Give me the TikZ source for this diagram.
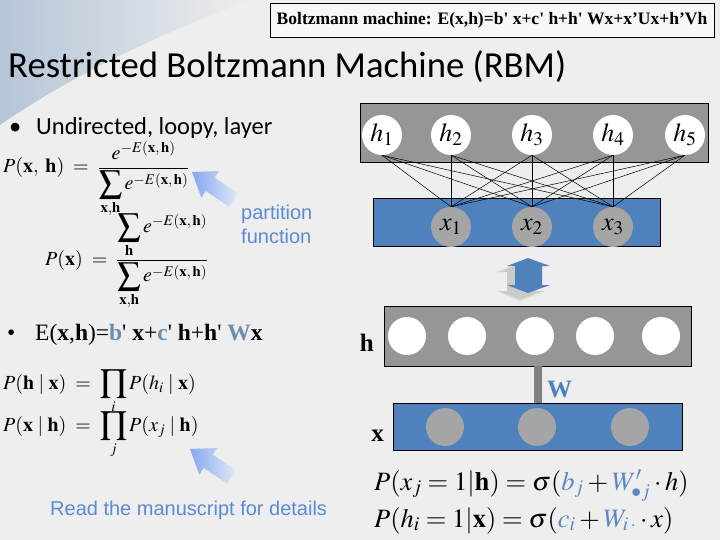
\documentclass[tikz,border=0pt]{standalone}
\usepackage{amsmath}
\usepackage{graphicx}
\usepackage{mathptmx}
\usepackage{fontspec}
\setmainfont{Liberation Serif}
\newfontfamily\calibri{Carlito}
\newfontfamily\arial{Liberation Sans}
\usetikzlibrary{fadings}

\definecolor{slidebg}{HTML}{EEEEEE}
\definecolor{swoosh}{HTML}{9DB5CF}
\definecolor{layergray}{HTML}{969696}
\definecolor{layerblue}{HTML}{4F81BD}
\definecolor{unitgray}{HTML}{A5A5A5}
\definecolor{wiregray}{HTML}{808080}
\definecolor{noteblue}{HTML}{5B8BD6}
\definecolor{paramblue}{HTML}{6C8EAD}
\definecolor{formblue}{HTML}{5C86C4}
\definecolor{tipblue}{HTML}{86A8EE}
\definecolor{tailblue}{HTML}{E0E8F7}

\newcommand{\energy}{e^{-E(\mathbf{x},\,\mathbf{h})}}
\newcommand{\bigsum}{\mathop{\vcenter{\hbox{\scalebox{1.65}{$\textstyle\sum$}}}}\limits}
\newcommand{\bigprod}{\mathop{\vcenter{\hbox{\scalebox{1.65}{$\textstyle\prod$}}}}\limits}

\begin{document}
\begin{tikzpicture}[x=1pt, y=-1pt,
  hunit/.style={circle, fill=white, minimum size=40pt, inner sep=0pt,
        font=\fontsize{26}{26}\selectfont},
  xunit/.style={circle, fill=unitgray, minimum size=40pt, inner sep=0pt,
        font=\fontsize{26}{26}\selectfont},
  layer/.style={draw=black, line width=0.8pt, inner sep=0pt},
  link/.style={line width=0.5pt},
  note/.style={font=\arial\fontsize{20}{24}\selectfont, text=noteblue, inner sep=0pt},
  formula/.style={anchor=base west, inner sep=0pt, font=\fontsize{20}{24}\selectfont}]
  % slide background
  \fill[slidebg] (0,0) rectangle (720,540);
  \useasboundingbox (0,0) rectangle (720,540);
  \fill[swoosh, opacity=0.7, path fading=east] (0,0) -- (250,0)
        .. controls (170,30) and (80,70) .. (0,125) -- cycle;

  % header and title
  \node[draw=black, line width=0.8pt, fill=white!55!slidebg, minimum width=444pt,
        minimum height=34pt, font=\bfseries\fontsize{17.5}{17.5}\selectfont] (bmeq) at (492,20)
        {Boltzmann machine: E(x,h)=b\textquotesingle{} x+c\textquotesingle{} h+h\textquotesingle{} Wx+x’Ux+h’Vh};
  \node[anchor=base west, inner sep=0pt, font=\calibri\fontsize{36.7}{36.7}\selectfont] (title)
        at (8,78) {Restricted Boltzmann Machine (RBM)};

  % left column: bullets and formulas
  \node[anchor=base west, inner sep=0pt, font=\calibri\fontsize{24.5}{24.5}\selectfont] (dot1)
        at (9,135) {\textbullet};
  \node[anchor=base west, inner sep=0pt, font=\calibri\fontsize{24.5}{24.5}\selectfont] (bul1)
        at (36,135) {Undirected, loopy, layer};
  \node[formula] (pjoint) at (3,173)
        {$\displaystyle P(\mathbf{x},\;\mathbf{h})\;=\;\frac{\energy}{\bigsum_{\mathbf{x},\mathbf{h}} \energy}$};
  \node[formula] (pmarg) at (45,265)
        {$\displaystyle P(\mathbf{x})\;=\;\frac{\bigsum_{\mathbf{h}} \energy}{\bigsum_{\mathbf{x},\mathbf{h}} \energy}$};
  \node[note, anchor=north west, align=left] (partfn) at (241,205) {partition\\function};
  \begin{scope}[shift={(192,172)}, rotate=146]
    \shade[left color=tipblue, right color=tailblue] (0,0) -- (-22,16) -- (-22,8) -- (-50,8)
          -- (-50,-8) -- (-22,-8) -- (-22,-16) -- cycle;
  \end{scope}

  \node[anchor=base west, inner sep=0pt, font=\fontsize{23.5}{23.5}\selectfont] (dot2)
        at (7,340) {\textbullet};
  \node[formula, font=\fontsize{23.5}{23.5}\selectfont] (bul2) at (35,340)
        {E(\textbf{x},\textbf{h})=\textcolor{paramblue}{\textbf{b}}\textquotesingle{}
         \textbf{x}+\textcolor{paramblue}{\textbf{c}}\textquotesingle{} \textbf{h}+\textbf{h}\textquotesingle{}
         \textcolor{paramblue}{\textbf{W}}\textbf{x}};
  \node[formula] (phx) at (3,389)
        {$\displaystyle P(\mathbf{h}\mid\mathbf{x})\;=\;\bigprod_i P(h_i\mid\mathbf{x})$};
  \node[formula] (pxh) at (3,431)
        {$\displaystyle P(\mathbf{x}\mid\mathbf{h})\;=\;\bigprod_j P(x_j\mid\mathbf{h})$};
  \begin{scope}[shift={(190,449)}, rotate=146]
    \shade[left color=tipblue, right color=tailblue] (0,0) -- (-22,16) -- (-22,8) -- (-50,8)
          -- (-50,-8) -- (-22,-8) -- (-22,-16) -- cycle;
  \end{scope}
  \node[note, anchor=base west] (readme) at (50,515) {Read the manuscript for details};

  % right column: unit graph
  \node[layer, fill=layergray, minimum width=348pt, minimum height=59pt] (hbox) at (534,132.5) {};
  \node[layer, fill=layerblue, minimum width=287pt, minimum height=48pt] (xbox) at (516.5,222) {};
  \node[hunit] (h1) at (382,135) {$h_1$};
  \node[hunit] (h2) at (451,135) {$h_2$};
  \node[hunit] (h3) at (532,135) {$h_3$};
  \node[hunit] (h4) at (613,135) {$h_4$};
  \node[hunit] (h5) at (685,135) {$h_5$};
  \node[xunit] (x1) at (451,227) {$x_1$};
  \node[xunit] (x2) at (532,227) {$x_2$};
  \node[xunit] (x3) at (613,227) {$x_3$};
  \foreach \i in {1,...,5}
    \foreach \j in {1,2,3}
      \draw[link] (h\i.south) -- (x\j.north);

  % two-way arrow with its soft shadow
  \foreach \d in {0,3,6}
    \fill[black, opacity=0.05] (520-\d/2,264) -- (542+\d/2,272) -- (534,272) -- (534,291)
          -- (542+\d/2,291) -- (520,299+\d/2) -- (499-\d/2,291) -- (507,291) -- (507,272)
          -- (499-\d/2,272) -- cycle;
  \shade[left color=layerblue, middle color=layerblue!45!white, right color=layerblue]
        (528,258) -- (550,266) -- (542,266) -- (542,285) -- (550,285) -- (528,293)
        -- (507,285) -- (515,285) -- (515,266) -- (507,266) -- cycle;

  % right column: layer view
  \node[layer, fill=layergray, minimum width=307pt, minimum height=60pt] (hlayer) at (537.5,336) {};
  \node[layer, fill=layerblue, minimum width=289pt, minimum height=47pt] (xlayer) at (537.5,426.5) {};
  \draw[wiregray, line width=8pt] (hlayer.south) -- (xlayer.north);
  \node[hunit, minimum size=38pt] (hu1) at (407,336) {};
  \node[hunit, minimum size=38pt] (hu2) at (467,336) {};
  \node[hunit, minimum size=38pt] (hu3) at (535,336) {};
  \node[hunit, minimum size=38pt] (hu4) at (595,336) {};
  \node[hunit, minimum size=38pt] (hu5) at (661,336) {};
  \node[xunit, minimum size=38pt] (xu1) at (445,427) {};
  \node[xunit, minimum size=38pt] (xu2) at (537,427) {};
  \node[xunit, minimum size=38pt] (xu3) at (630,427) {};
  \node[anchor=base east, inner sep=0pt, font=\bfseries\fontsize{25}{25}\selectfont] (hname)
        at (374,351) {h};
  \node[anchor=base east, inner sep=0pt, font=\bfseries\fontsize{25}{25}\selectfont] (xname)
        at (384,441) {x};
  \node[anchor=base west, inner sep=0pt, text=layerblue, font=\bfseries\fontsize{25}{25}\selectfont]
        (wname) at (547,397) {W};

  % conditionals
  \node[formula, font=\fontsize{26.5}{26.5}\selectfont] (pxone) at (374,490)
        {$P(x_j=1|\mathbf{h})=\sigma(\textcolor{formblue}{b_j}+\textcolor{formblue}{W'_{\bullet j}}\cdot h)$};
  \node[formula, font=\fontsize{26.5}{26.5}\selectfont] (phone) at (374,527)
        {$P(h_i=1|\mathbf{x})=\sigma(\textcolor{formblue}{c_i}+\textcolor{formblue}{W_{i\,\cdot}}\cdot x)$};
\end{tikzpicture}
\end{document}
